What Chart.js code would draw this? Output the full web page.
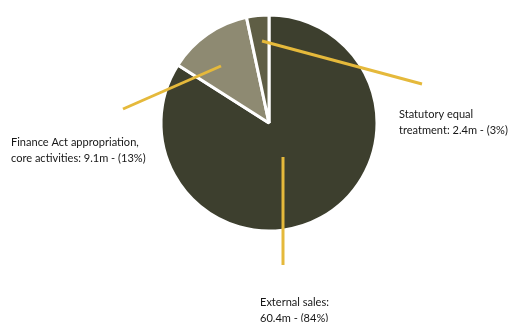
<!DOCTYPE html>
<html lang="en">
<head>
    <meta charset="UTF-8">
    <title>Income breakdown</title>
    <script src="https://cdn.jsdelivr.net/npm/chart.js"></script>
    <style>
        html, body { margin: 0; padding: 0; background: #ffffff; }
        #wrap { position: relative; width: 510px; height: 322px; overflow: hidden; }
    </style>
</head>
<body>
    <div id="wrap"><canvas id="incomeChart" width="510" height="322"></canvas></div>

    <script>
        // values (EUR m)
        const categories = ['External sales', 'Finance Act appropriation, core activities', 'Statutory equal treatment'];
        const amounts = [60.4, 9.1, 2.4];
        const shares = [84, 13, 3];
        const labelLines = [
            ['External sales:', '60.4m - (84%)'],
            ['Finance Act appropriation,', 'core activities: 9.1m - (13%)'],
            ['Statutory equal', 'treatment: 2.4m - (3%)']
        ];
        const sliceColors = ['#3d3f2e', '#8e8a72', '#5f5e45'];

        // leader lines, offsets from the pie centre: [anchorX, anchorY, endX, endY]
        const leaders = [
            [14, 34, 14, 142],
            [-48, -57, -146, -14],
            [-7, -82, 153, -39]
        ];
        // label position (left x, first baseline y)
        const labelPos = [
            [260, 306],
            [11, 146],
            [399, 118]
        ];

        const calloutPlugin = {
            id: 'callouts',
            afterDatasetsDraw(chart) {
                const ctx = chart.ctx;
                const arc = chart.getDatasetMeta(0).data[0];
                const cx = arc.x, cy = arc.y;
                ctx.save();
                ctx.strokeStyle = '#e5b93b';
                ctx.lineWidth = 3;
                leaders.forEach(l => {
                    ctx.beginPath();
                    ctx.moveTo(cx + l[0], cy + l[1]);
                    ctx.lineTo(cx + l[2], cy + l[3]);
                    ctx.stroke();
                });
                ctx.fillStyle = '#161616';
                ctx.font = '12px Lato';
                ctx.textBaseline = 'alphabetic';
                ctx.textAlign = 'left';
                // the reference font is a little narrower than Lato
                const squeeze = 0.92;
                labelLines.forEach((lines, i) => {
                    lines.forEach((t, j) => {
                        ctx.save();
                        ctx.translate(labelPos[i][0], labelPos[i][1] + j * 16);
                        ctx.scale(squeeze, 1);
                        ctx.fillText(t, 0, 0);
                        ctx.restore();
                    });
                });
                ctx.restore();
            }
        };

        new Chart(document.getElementById('incomeChart'), {
            type: 'pie',
            data: {
                labels: categories,
                datasets: [{
                    data: amounts,
                    backgroundColor: sliceColors,
                    borderColor: '#ffffff',
                    borderWidth: 3,
                    radius: 108
                }]
            },
            options: {
                responsive: false,
                animation: false,
                layout: { padding: { left: 28, top: 0, right: 0, bottom: 76 } },
                plugins: {
                    legend: { display: false },
                    tooltip: { enabled: false }
                }
            },
            plugins: [calloutPlugin]
        });
    </script>
</body>
</html>
